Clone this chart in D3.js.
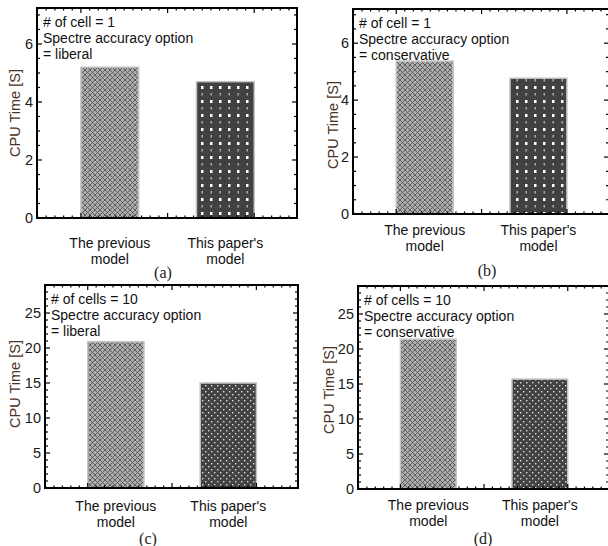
<!DOCTYPE html>
<html>
<head>
<meta charset="utf-8">
<script src="https://cdn.jsdelivr.net/npm/d3@7"></script>
<style>
  body { margin: 0; background: #fff; }
  svg { display: block; font-family: "Liberation Sans", Arial, sans-serif; }
</style>
</head>
<body>
<svg id="chart" width="608" height="546"></svg>
<script>
"use strict";

// chart data
const categories = [["The previous", "model"], ["This paper's", "model"]];
const cpuTimeA = [5.2, 4.7];
const cpuTimeB = [5.37, 4.77];
const cpuTimeC = [20.9, 15.0];
const cpuTimeD = [21.4, 15.7];
const yTicksSmall = [0, 2, 4, 6];
const yTicksLarge = [0, 5, 10, 15, 20, 25];
const notesA = ["# of cell = 1", "Spectre accuracy option", "= liberal"];
const notesB = ["# of cell = 1", "Spectre accuracy option", "= conservative"];
const notesC = ["# of cells = 10", "Spectre accuracy option", "= liberal"];
const notesD = ["# of cells = 10", "Spectre accuracy option", "= conservative"];
const panelTags = ["(a)", "(b)", "(c)", "(d)"];
const yLabel = "CPU Time [S]";

// layout of the four panels (pixel frames)
const panels = [
    {values: cpuTimeA, ticks: yTicksSmall, yMax: 7.24, minor: 0.5, notes: notesA, tag: panelTags[0],
     x0: 37, x1: 297, y0: 8, y1: 218, labY: 15, labMid: 113, catY: 243, tagX: 163, tagY: 272, dense: false},
    {values: cpuTimeB, ticks: yTicksSmall, yMax: 7.2, minor: 0.5, notes: notesB, tag: panelTags[1],
     x0: 353, x1: 609, y0: 9, y1: 214, labY: 333, labMid: 125, catY: 230, tagX: 487, tagY: 270, dense: false},
    {values: cpuTimeC, ticks: yTicksLarge, yMax: 29, minor: 1, notes: notesC, tag: panelTags[2],
     x0: 45, x1: 298, y0: 285, y1: 488, labY: 15, labMid: 384, catY: 506, tagX: 148, tagY: 538, dense: true},
    {values: cpuTimeD, ticks: yTicksLarge, yMax: 29, minor: 1, notes: notesD, tag: panelTags[3],
     x0: 358, x1: 609, y0: 286, y1: 489, labY: 329, labMid: 390, catY: 505, tagX: 483, tagY: 538, dense: true}
];

const svg = d3.select("#chart");
const defs = svg.append("defs");

// crosshatch for the previous model
const hatch = defs.append("pattern")
    .attr("id", "hatch")
    .attr("patternUnits", "userSpaceOnUse")
    .attr("width", 5).attr("height", 5);
hatch.append("rect").attr("width", 5).attr("height", 5).attr("fill", "#aeaeae");
hatch.append("path")
    .attr("d", "M0,0 L5,5 M5,0 L0,5")
    .attr("stroke", "#555").attr("stroke-width", 0.9);

// dotted dark fill for this paper's model (sparse and dense)
const dots = defs.append("pattern")
    .attr("id", "dots")
    .attr("patternUnits", "userSpaceOnUse")
    .attr("width", 9).attr("height", 14);
dots.append("rect").attr("width", 9).attr("height", 14).attr("fill", "#414141");
dots.append("rect").attr("x", 3).attr("y", 2).attr("width", 2.5).attr("height", 3).attr("fill", "#fff");
dots.append("rect").attr("x", 3.5).attr("y", 9).attr("width", 1.5).attr("height", 2.5).attr("fill", "#aaa");

const dotsDense = defs.append("pattern")
    .attr("id", "dotsDense")
    .attr("patternUnits", "userSpaceOnUse")
    .attr("width", 6).attr("height", 6);
dotsDense.append("rect").attr("width", 6).attr("height", 6).attr("fill", "#424242");
dotsDense.append("rect").attr("x", 1).attr("y", 1).attr("width", 1.4).attr("height", 1.4).attr("fill", "#ddd");
dotsDense.append("rect").attr("x", 4).attr("y", 4).attr("width", 1.4).attr("height", 1.4).attr("fill", "#ddd");

function drawPanel(p) {
    const g = svg.append("g");
    const x = d3.scaleLinear().domain([0.37, 2.62]).range([p.x0, p.x1]);
    const y = d3.scaleLinear().domain([0, p.yMax]).range([p.y1, p.y0]);
    const barW = 0.5;

    // bars
    g.selectAll("rect.bar")
        .data(p.values)
        .join("rect")
        .attr("class", "bar")
        .attr("x", (d, i) => x(i + 1 - barW / 2))
        .attr("width", x(barW) - x(0))
        .attr("y", d => y(d))
        .attr("height", d => y(0) - y(d))
        .attr("fill", (d, i) => i == 0 ? "url(#hatch)" : (p.dense ? "url(#dotsDense)" : "url(#dots)"))
        .attr("stroke", "#c4c4c4")
        .attr("stroke-width", 1.5);

    // inward ticks on all four sides
    const yMinor = d3.range(0, p.yMax, p.minor);
    const xMinor = d3.range(0.375, 2.62, 0.075);
    const xMajor = [0.75, 1.5, 2.25];
    const tk = g.append("g").attr("stroke", "#000").attr("stroke-width", 1.2);
    yMinor.forEach(v => {
        const len = p.ticks.includes(v) ? 5 : 3;
        tk.append("line").attr("x1", p.x0).attr("x2", p.x0 + len).attr("y1", y(v)).attr("y2", y(v));
        tk.append("line").attr("x1", p.x1).attr("x2", p.x1 - len).attr("y1", y(v)).attr("y2", y(v));
    });
    xMinor.forEach(v => {
        const len = xMajor.some(m => Math.abs(m - v) < 1e-6) ? 5 : 2.5;
        tk.append("line").attr("x1", x(v)).attr("x2", x(v)).attr("y1", p.y1).attr("y2", p.y1 - len);
        tk.append("line").attr("x1", x(v)).attr("x2", x(v)).attr("y1", p.y0).attr("y2", p.y0 + len);
    });

    // frame
    g.append("rect")
        .attr("x", p.x0).attr("y", p.y0)
        .attr("width", p.x1 - p.x0).attr("height", p.y1 - p.y0)
        .attr("fill", "none").attr("stroke", "#000").attr("stroke-width", 2);

    // y tick labels
    g.selectAll("text.ytick")
        .data(p.ticks)
        .join("text")
        .attr("class", "ytick")
        .attr("x", p.x0 - 4)
        .attr("y", d => y(d))
        .attr("dy", "0.35em")
        .attr("text-anchor", "end")
        .style("font-size", "14.5px")
        .attr("fill", "#1a1a1a")
        .text(d => d);

    // y label
    g.append("text")
        .attr("transform", `translate(${p.labY},${p.labMid}) rotate(-90)`)
        .attr("dy", "0.35em")
        .attr("text-anchor", "middle")
        .style("font-size", "14.5px")
        .attr("fill", "#4a3225")
        .text(yLabel);

    // annotation lines
    g.selectAll("text.note")
        .data(p.notes)
        .join("text")
        .attr("class", "note")
        .attr("x", p.x0 + 6)
        .attr("y", (d, i) => p.y0 + 14 + i * 16)
        .attr("dy", "0.35em")
        .style("font-size", "14px")
        .attr("fill", "#111")
        .text(d => d);

    // category labels
    categories.forEach((lines, i) => {
        lines.forEach((t, j) => {
            g.append("text")
                .attr("x", x(i + 1))
                .attr("y", p.catY + j * 16)
                .attr("dy", "0.35em")
                .attr("text-anchor", "middle")
                .style("font-size", "14px")
                .attr("fill", "#111")
                .text(t);
        });
    });

    // panel tag
    g.append("text")
        .attr("x", p.tagX)
        .attr("y", p.tagY)
        .attr("dy", "0.35em")
        .attr("text-anchor", "middle")
        .style("font-family", "'Liberation Serif', 'Times New Roman', serif")
        .style("font-size", "16px")
        .attr("fill", "#222")
        .text(p.tag);
}

panels.forEach(drawPanel);
</script>
</body>
</html>
